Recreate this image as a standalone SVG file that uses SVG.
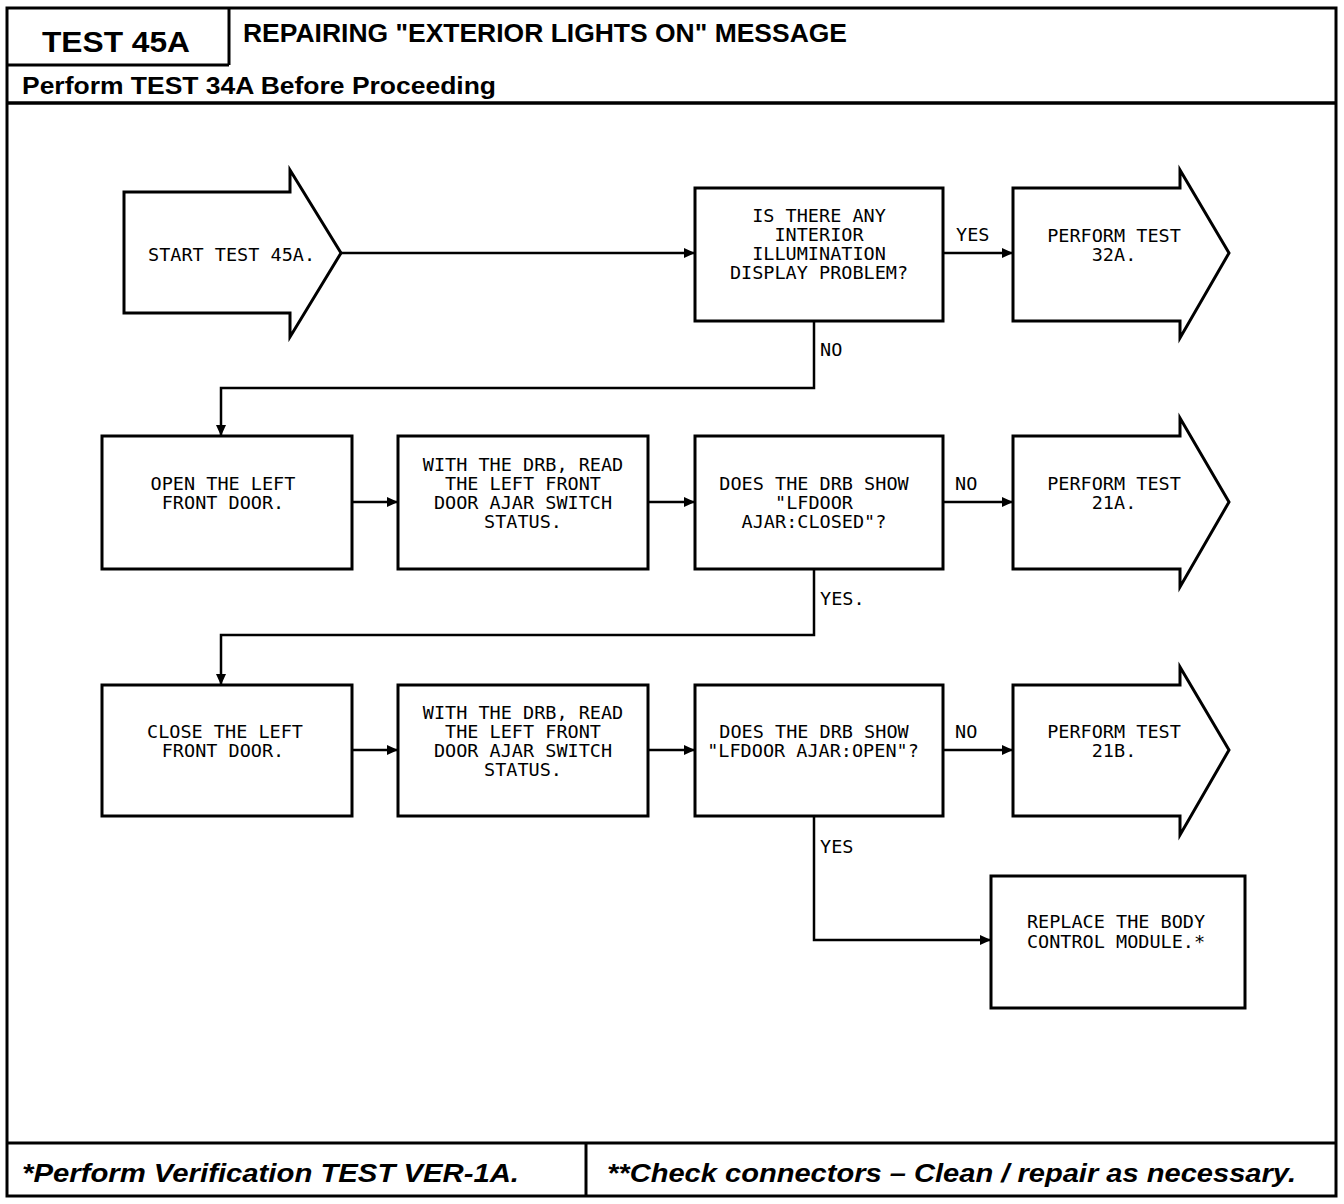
<svg xmlns="http://www.w3.org/2000/svg" width="1344" height="1204" viewBox="0 0 1344 1204">
<style>
.frame{fill:none;stroke:#000;stroke-width:3}
.node{fill:#fff;stroke:#000;stroke-width:3;stroke-linejoin:miter}
.conn{fill:none;stroke:#000;stroke-width:2.5}
.t{font-family:"DejaVu Sans Mono","Liberation Mono",monospace;font-size:18.5px;fill:#000;text-anchor:middle}
.l{font-family:"DejaVu Sans Mono","Liberation Mono",monospace;font-size:18.5px;fill:#000;text-anchor:start}
.hb{font-family:"Liberation Sans",Arial,sans-serif;font-weight:bold;fill:#000}
.fi{font-family:"Liberation Sans",Arial,sans-serif;font-weight:bold;font-style:italic;fill:#000}
</style>
<defs>
<marker id="ah" markerUnits="userSpaceOnUse" markerWidth="12" markerHeight="10" refX="11" refY="5" orient="auto">
<path d="M0,0 L11,5 L0,10 Z" fill="#000"/>
</marker>
</defs>
<rect width="1344" height="1204" fill="#fff"/>
<g id="frame">
<rect class="frame" x="7" y="8" width="1329" height="1188"/>
<line class="frame" x1="229" y1="8" x2="229" y2="65"/>
<line class="frame" x1="7" y1="65" x2="229" y2="65"/>
<line class="frame" x1="7" y1="103" x2="1336" y2="103" style="stroke-width:3.5"/>
<line class="frame" x1="7" y1="1143" x2="1336" y2="1143"/>
<line class="frame" x1="586" y1="1143" x2="586" y2="1196"/>
<text class="hb" x="42" y="52" font-size="30" textLength="148" lengthAdjust="spacingAndGlyphs">TEST 45A</text>
<text class="hb" x="243" y="42" font-size="26" textLength="604" lengthAdjust="spacingAndGlyphs">REPAIRING "EXTERIOR LIGHTS ON" MESSAGE</text>
<text class="hb" x="22" y="94" font-size="24" textLength="474" lengthAdjust="spacingAndGlyphs">Perform TEST 34A Before Proceeding</text>
<text class="fi" x="22" y="1182" font-size="26" textLength="497" lengthAdjust="spacingAndGlyphs">*Perform Verification TEST VER-1A.</text>
<text class="fi" x="607" y="1182" font-size="26" textLength="689" lengthAdjust="spacingAndGlyphs">**Check connectors – Clean / repair as necessary.</text>
</g>
<g id="connectors">
<line class="conn" x1="341" y1="253" x2="695" y2="253" marker-end="url(#ah)"/>
<line class="conn" x1="943" y1="253" x2="1013" y2="253" marker-end="url(#ah)"/>
<polyline class="conn" points="814,321 814,388 221,388 221,436" marker-end="url(#ah)"/>
<line class="conn" x1="352" y1="502" x2="398" y2="502" marker-end="url(#ah)"/>
<line class="conn" x1="648" y1="502" x2="695" y2="502" marker-end="url(#ah)"/>
<line class="conn" x1="943" y1="502" x2="1013" y2="502" marker-end="url(#ah)"/>
<polyline class="conn" points="814,569 814,635 221,635 221,685" marker-end="url(#ah)"/>
<line class="conn" x1="352" y1="750" x2="398" y2="750" marker-end="url(#ah)"/>
<line class="conn" x1="648" y1="750" x2="695" y2="750" marker-end="url(#ah)"/>
<line class="conn" x1="943" y1="750" x2="1013" y2="750" marker-end="url(#ah)"/>
<polyline class="conn" points="814,816 814,940 991,940" marker-end="url(#ah)"/>
<text class="l" x="956" y="241">YES</text>
<text class="l" x="820" y="356">NO</text>
<text class="l" x="955" y="490">NO</text>
<text class="l" x="820" y="605">YES.</text>
<text class="l" x="955" y="738">NO</text>
<text class="l" x="820" y="853">YES</text>
</g>
<g id="start">
<path class="node" d="M124,192 H290 V170 L341,253 L290,337 V313 H124 Z"/>
<text class="l" x="148" y="261">START TEST 45A.</text>
</g>
<g id="q1">
<rect class="node" x="695" y="188" width="248" height="133"/>
<text class="t" x="819" y="222">IS THERE ANY</text>
<text class="t" x="819" y="241">INTERIOR</text>
<text class="t" x="819" y="260">ILLUMINATION</text>
<text class="t" x="819" y="279">DISPLAY PROBLEM?</text>
</g>
<g id="t32a">
<path class="node" d="M1013,188 H1180 V170 L1229,253 L1180,338 V321 H1013 Z"/>
<text class="t" x="1114" y="242">PERFORM TEST</text>
<text class="t" x="1114" y="261">32A.</text>
</g>
<g id="open">
<rect class="node" x="102" y="436" width="250" height="133"/>
<text class="t" x="223" y="490">OPEN THE LEFT</text>
<text class="t" x="223" y="509">FRONT DOOR.</text>
</g>
<g id="read1">
<rect class="node" x="398" y="436" width="250" height="133"/>
<text class="t" x="523" y="471">WITH THE DRB, READ</text>
<text class="t" x="523" y="490">THE LEFT FRONT</text>
<text class="t" x="523" y="509">DOOR AJAR SWITCH</text>
<text class="t" x="523" y="528">STATUS.</text>
</g>
<g id="q2">
<rect class="node" x="695" y="436" width="248" height="133"/>
<text class="t" x="814" y="490">DOES THE DRB SHOW</text>
<text class="t" x="814" y="509">"LFDOOR</text>
<text class="t" x="814" y="528">AJAR:CLOSED"?</text>
</g>
<g id="t21a">
<path class="node" d="M1013,436 H1180 V418 L1229,502 L1180,587 V569 H1013 Z"/>
<text class="t" x="1114" y="490">PERFORM TEST</text>
<text class="t" x="1114" y="509">21A.</text>
</g>
<g id="close">
<rect class="node" x="102" y="685" width="250" height="131"/>
<text class="t" x="225" y="738">CLOSE THE LEFT</text>
<text class="t" x="223" y="757">FRONT DOOR.</text>
</g>
<g id="read2">
<rect class="node" x="398" y="685" width="250" height="131"/>
<text class="t" x="523" y="719">WITH THE DRB, READ</text>
<text class="t" x="523" y="738">THE LEFT FRONT</text>
<text class="t" x="523" y="757">DOOR AJAR SWITCH</text>
<text class="t" x="523" y="776">STATUS.</text>
</g>
<g id="q3">
<rect class="node" x="695" y="685" width="248" height="131"/>
<text class="t" x="814" y="738">DOES THE DRB SHOW</text>
<text class="t" x="813" y="757">"LFDOOR AJAR:OPEN"?</text>
</g>
<g id="t21b">
<path class="node" d="M1013,685 H1180 V667 L1229,750 L1180,835 V816 H1013 Z"/>
<text class="t" x="1114" y="738">PERFORM TEST</text>
<text class="t" x="1114" y="757">21B.</text>
</g>
<g id="bcm">
<rect class="node" x="991" y="876" width="254" height="132"/>
<text class="t" x="1116" y="928">REPLACE THE BODY</text>
<text class="t" x="1116" y="948">CONTROL MODULE.*</text>
</g>
</svg>
